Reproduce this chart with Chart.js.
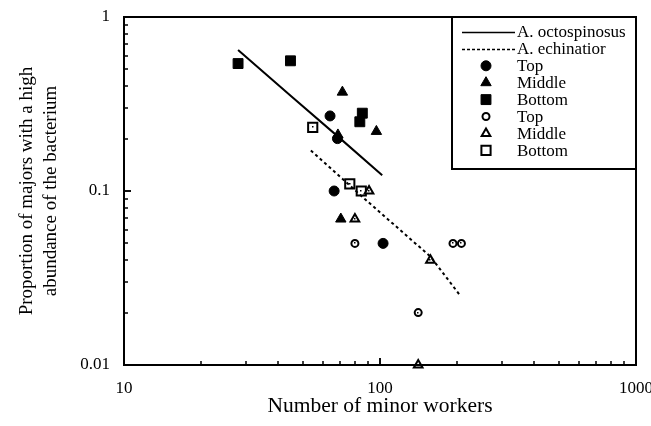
<!DOCTYPE html>
<html><head><meta charset="utf-8">
<script src="https://cdn.jsdelivr.net/npm/chart.js@4/dist/chart.umd.min.js"></script>
<style>html,body{margin:0;padding:0;background:#fff}</style>
</head><body>
<canvas id="c" width="651" height="426" style="display:block;width:651px;height:426px"></canvas>
<script>
// ---- data ----
const seriesLabels = ['A. octospinosus','A. echinatior','Top','Middle','Bottom','Top','Middle','Bottom'];
const xTickLabels = [10, 100, 1000];
const yTickLabels = [0.01, 0.1, 1];

const octLineX = [27.9, 45, 70, 102];
const octLineY = [0.647, 0.35, 0.20, 0.123];
const echLineX = [53.7, 87.9, 157.4, 206];
const echLineY = [0.171, 0.089, 0.042, 0.025];

const octTopX = [63.8, 68.2, 66.2, 102.8];
const octTopY = [0.27, 0.20, 0.10, 0.05];
const octMidX = [71.3, 68.5, 96.8, 70.3];
const octMidY = [0.37, 0.21, 0.22, 0.069];
const octBotX = [27.9, 44.7, 85.3, 83.4];
const octBotY = [0.54, 0.56, 0.28, 0.25];

const echTopX = [79.8, 192.8, 208, 141];
const echTopY = [0.05, 0.05, 0.05, 0.02];
const echMidX = [79.8, 157.4, 90.6, 141];
const echMidY = [0.069, 0.04, 0.10, 0.01];
const echBotX = [54.6, 76.2, 84.5];
const echBotY = [0.232, 0.11, 0.10];

const pts = (xs, ys) => xs.map((x, i) => ({x: x, y: ys[i]}));
const SERIF = "'Liberation Serif', 'Times New Roman', serif";

const datasets = [
  {label: seriesLabels[0], data: pts(octLineX, octLineY), showLine: true, borderColor: '#000', borderWidth: 2, pointRadius: 0, tension: 0, fill: false, _legendType: 'solid'},
  {label: seriesLabels[1], data: pts(echLineX, echLineY), showLine: true, borderColor: '#000', borderWidth: 2, borderDash: [3, 3], pointRadius: 0, tension: 0, fill: false, _legendType: 'dash'},
  {label: seriesLabels[2], data: pts(octTopX, octTopY), pointStyle: 'circle', pointRadius: 5, backgroundColor: '#000', borderColor: '#000', borderWidth: 1, _legendType: 'point'},
  {label: seriesLabels[3], data: pts(octMidX, octMidY), pointStyle: 'triangle', pointRadius: 6, backgroundColor: '#000', borderColor: '#000', borderWidth: 1, _legendType: 'point'},
  {label: seriesLabels[4], data: pts(octBotX, octBotY), pointStyle: 'rect', pointRadius: 7, backgroundColor: '#000', borderColor: '#000', borderWidth: 1, _legendType: 'point'},
  {label: seriesLabels[5], data: pts(echTopX, echTopY), pointStyle: 'circle', pointRadius: 3.5, backgroundColor: '#fff', borderColor: '#000', borderWidth: 2, _legendType: 'point', _open: true},
  {label: seriesLabels[6], data: pts(echMidX, echMidY), pointStyle: 'triangle', pointRadius: 5, backgroundColor: '#fff', borderColor: '#000', borderWidth: 2, _legendType: 'point', _open: true, clip: false},
  {label: seriesLabels[7], data: pts(echBotX, echBotY), pointStyle: 'rect', pointRadius: 6.5, backgroundColor: '#fff', borderColor: '#000', borderWidth: 2, _legendType: 'point', _open: true}
];

function drawMarker(ctx, style, x, y, r, fill, stroke, bw) {
  ctx.save();
  ctx.beginPath();
  if (style === 'circle') {
    ctx.arc(x, y, r, 0, Math.PI * 2);
  } else if (style === 'triangle') {
    const half = r * Math.sqrt(3) / 2;
    ctx.moveTo(x, y - r);
    ctx.lineTo(x + half, y + r / 2);
    ctx.lineTo(x - half, y + r / 2);
    ctx.closePath();
  } else {
    const s = r * Math.SQRT1_2;
    ctx.rect(x - s, y - s, 2 * s, 2 * s);
  }
  ctx.fillStyle = fill; ctx.fill();
  ctx.lineWidth = bw; ctx.strokeStyle = stroke; ctx.stroke();
  ctx.restore();
}

const framePlugin = {
  id: 'frame',
  afterDraw(chart) {
    const ctx = chart.ctx;
    const a = chart.chartArea;
    const xs = chart.scales.x, ys = chart.scales.y;
    ctx.save();
    ctx.fillStyle = '#000';
    // inward minor/major ticks on bottom and left axes
    [10, 100].forEach(d => {
      for (let m = 1; m <= 10; m++) {
        const px = Math.round(xs.getPixelForValue(d * m));
        const len = (m === 1 || m === 10) ? 7 : 4;
        ctx.fillRect(px - 0.75, a.bottom - len, 1.5, len);
      }
    });
    [0.01, 0.1].forEach(d => {
      for (let m = 1; m <= 10; m++) {
        const py = Math.round(ys.getPixelForValue(d * m));
        const len = (m === 1 || m === 10) ? 7 : 4;
        ctx.fillRect(a.left, py - 0.75, len, 1.5);
      }
    });
    ctx.strokeStyle = '#000';
    ctx.lineWidth = 2;
    ctx.strokeRect(a.left, a.top, a.right - a.left, a.bottom - a.top);

    // small centre dot in the open markers, as in the printed figure
    chart.data.datasets.forEach((ds, i) => {
      if (!ds._open) return;
      chart.getDatasetMeta(i).data.forEach(el => {
        ctx.fillRect(Math.round(el.x) - 1, Math.round(el.y) - 1, 1.5, 1.5);
      });
    });

    // legend box
    const bx = 452, by = a.top, bw = a.right - 452, bh = 152;
    ctx.fillStyle = '#fff';
    ctx.fillRect(bx, by, bw, bh);
    ctx.strokeStyle = '#000';
    ctx.lineWidth = 2;
    ctx.strokeRect(bx, by, bw, bh);
    ctx.font = '17px ' + SERIF;
    ctx.textBaseline = 'middle';
    ctx.textAlign = 'left';
    chart.data.datasets.forEach((ds, i) => {
      const cy = by + 15 + i * 16.9;
      if (ds._legendType === 'solid' || ds._legendType === 'dash') {
        ctx.save();
        ctx.strokeStyle = '#000';
        ctx.lineWidth = 1.5;
        if (ds._legendType === 'dash') ctx.setLineDash([3, 2]);
        ctx.beginPath(); ctx.moveTo(462, cy + 0.5); ctx.lineTo(515, cy + 0.5); ctx.stroke();
        ctx.restore();
      } else {
        const r = ds._open ? ({circle: 3.5, triangle: 5, rect: 6.5})[ds.pointStyle]
                           : ({circle: 5, triangle: 6, rect: 7})[ds.pointStyle];
        drawMarker(ctx, ds.pointStyle, 486, cy, r, ds.backgroundColor, ds.borderColor, ds.borderWidth);
      }
      ctx.fillStyle = '#000';
      ctx.fillText(ds.label, 517, cy + 1);
    });
    ctx.restore();
  }
};

new Chart(document.getElementById('c'), {
  type: 'scatter',
  data: {datasets: datasets},
  options: {
    responsive: false,
    animation: false,
    devicePixelRatio: 1,
    layout: {padding: {top: 17, right: 15, left: 0, bottom: 0}},
    plugins: {legend: {display: false}, tooltip: {enabled: false}},
    scales: {
      x: {
        type: 'logarithmic', min: 10, max: 1000, position: 'bottom',
        grid: {display: false, drawTicks: false},
        border: {display: false},
        afterBuildTicks: s => { s.ticks = xTickLabels.map(v => ({value: v})); },
        afterFit: s => { s.height = 61; s.paddingLeft = 0; s.paddingRight = 0; },
        ticks: {color: '#000', padding: 13, maxRotation: 0, autoSkip: false,
          font: {family: SERIF, size: 17}, callback: v => String(v)},
        title: {display: true, text: 'Number of minor workers', color: '#000',
          font: {family: SERIF, size: 21.5}, padding: {top: 0, bottom: 7}}
      },
      y: {
        type: 'logarithmic', min: 0.01, max: 1, position: 'left',
        grid: {display: false, drawTicks: false},
        border: {display: false},
        afterBuildTicks: s => { s.ticks = yTickLabels.map(v => ({value: v})); },
        afterFit: s => { s.width = 124; s.paddingTop = 0; s.paddingBottom = 0; },
        ticks: {color: '#000', padding: 14, autoSkip: false,
          font: {family: SERIF, size: 17}, callback: v => String(v)},
        title: {display: true, text: ['Proportion of majors with a high', 'abundance of the bacterium'],
          color: '#000', font: {family: SERIF, size: 19, lineHeight: 1.25}, padding: {top: 15, bottom: 0}}
      }
    }
  },
  plugins: [framePlugin]
});
</script>
</body></html>
